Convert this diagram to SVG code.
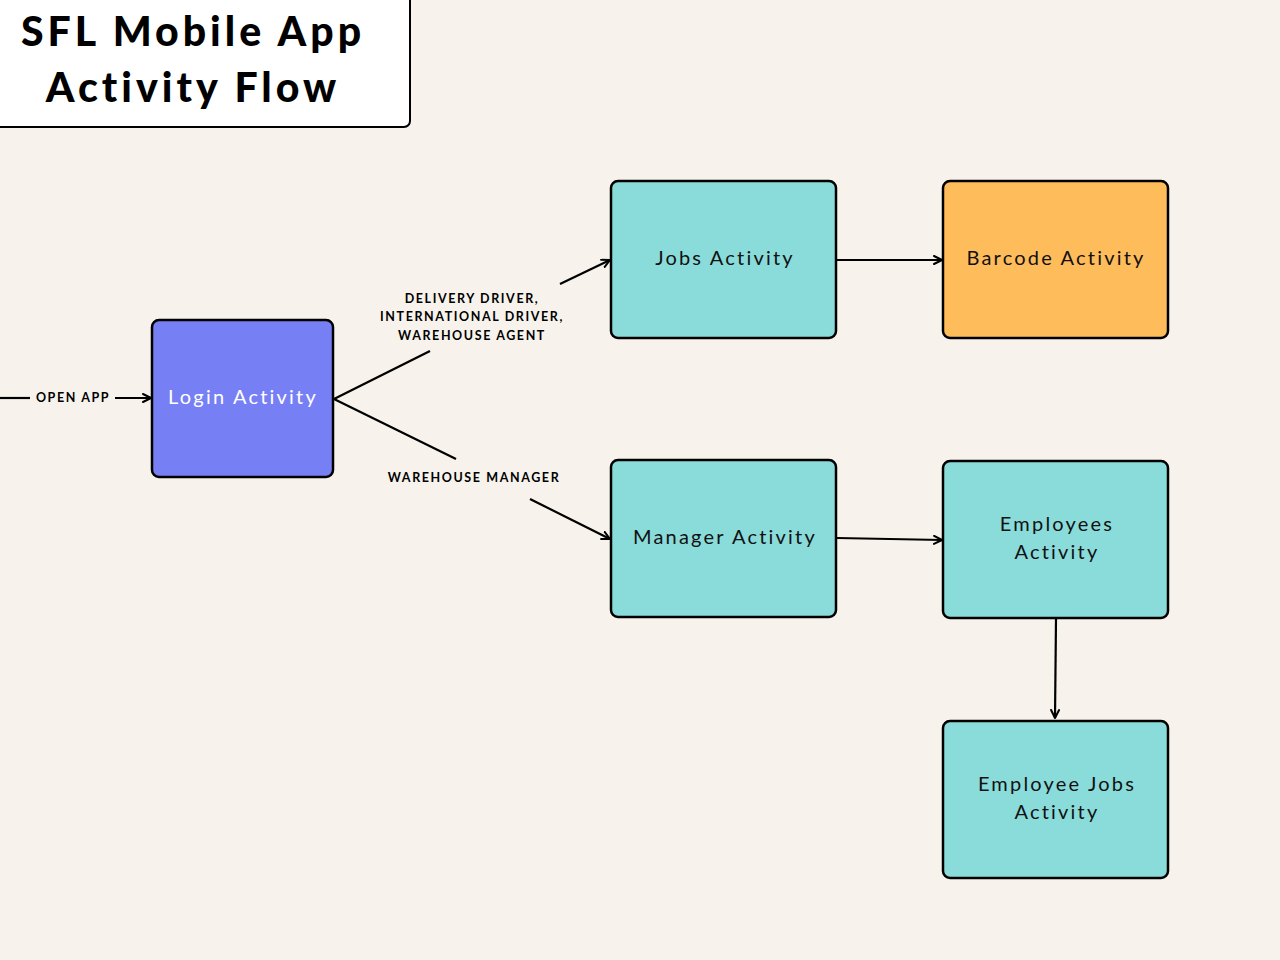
<svg xmlns="http://www.w3.org/2000/svg" width="1280" height="960" viewBox="0 0 1280 960">
<defs>
<marker id="arr" viewBox="0 0 10 10" refX="9" refY="5" markerWidth="10" markerHeight="10" markerUnits="userSpaceOnUse" orient="auto">
<path d="M1,1 L9,5 L1,9" fill="none" stroke="#000" stroke-width="2" stroke-linecap="round" stroke-linejoin="round"/>
</marker>
<style>
.node rect{stroke:#000;stroke-width:2.5}
.nt{font-family:"Lato","Liberation Sans",sans-serif;font-size:20px;letter-spacing:2.2px;text-anchor:middle;fill:#111}
.lbl{font-family:"Lato","Liberation Sans",sans-serif;font-weight:bold;font-size:12.5px;letter-spacing:1.6px;text-anchor:middle;fill:#000}
.c{stroke:#000;stroke-width:2.2;fill:none}
.title{font-family:"Lato","Liberation Sans",sans-serif;font-weight:900;font-size:41px;letter-spacing:4px;text-anchor:middle;fill:#000}
</style>
</defs>
<rect width="1280" height="960" fill="#F7F3EC"/>
<g id="title">
<rect x="-10" y="-10" width="420" height="137" rx="6" fill="#fff" stroke="#000" stroke-width="2"/>
<text class="title" x="193" y="46">SFL Mobile App</text>
<text class="title" x="193" y="102">Activity Flow</text>
</g>
<g id="connectors">
<line class="c" x1="0" y1="398" x2="30" y2="398"/>
<line class="c" x1="115" y1="398" x2="151" y2="398" marker-end="url(#arr)"/>
<text class="lbl" x="73" y="402">OPEN APP</text>
<line class="c" x1="334" y1="399" x2="430" y2="351"/>
<line class="c" x1="560" y1="284" x2="610" y2="260" marker-end="url(#arr)"/>
<text class="lbl" x="472" y="303">DELIVERY DRIVER,</text>
<text class="lbl" x="472" y="321">INTERNATIONAL DRIVER,</text>
<text class="lbl" x="472" y="340">WAREHOUSE AGENT</text>
<line class="c" x1="334" y1="399" x2="456" y2="459"/>
<line class="c" x1="530" y1="499" x2="610" y2="539" marker-end="url(#arr)"/>
<text class="lbl" x="474" y="482">WAREHOUSE MANAGER</text>
<line class="c" x1="837" y1="260" x2="942" y2="260" marker-end="url(#arr)"/>
<line class="c" x1="837" y1="538" x2="942" y2="540" marker-end="url(#arr)"/>
<line class="c" x1="1056" y1="619" x2="1055" y2="718" marker-end="url(#arr)"/>
</g>
<g id="login" class="node">
<rect x="152" y="320" width="181" height="157" rx="7" fill="#777FF5"/>
<text class="nt" x="243" y="404" style="fill:#fff">Login Activity</text>
</g>
<g id="jobs" class="node">
<rect x="611" y="181" width="225" height="157" rx="7" fill="#8ADCDB"/>
<text class="nt" x="725" y="265">Jobs Activity</text>
</g>
<g id="barcode" class="node">
<rect x="943" y="181" width="225" height="157" rx="7" fill="#FFBC5B"/>
<text class="nt" x="1056" y="265">Barcode Activity</text>
</g>
<g id="manager" class="node">
<rect x="611" y="460" width="225" height="157" rx="7" fill="#8ADCDB"/>
<text class="nt" x="725" y="544">Manager Activity</text>
</g>
<g id="employees" class="node">
<rect x="943" y="461" width="225" height="157" rx="7" fill="#8ADCDB"/>
<text class="nt" x="1057" y="531">Employees</text>
<text class="nt" x="1057" y="559">Activity</text>
</g>
<g id="employeejobs" class="node">
<rect x="943" y="721" width="225" height="157" rx="7" fill="#8ADCDB"/>
<text class="nt" x="1057" y="791">Employee Jobs</text>
<text class="nt" x="1057" y="819">Activity</text>
</g>
</svg>
